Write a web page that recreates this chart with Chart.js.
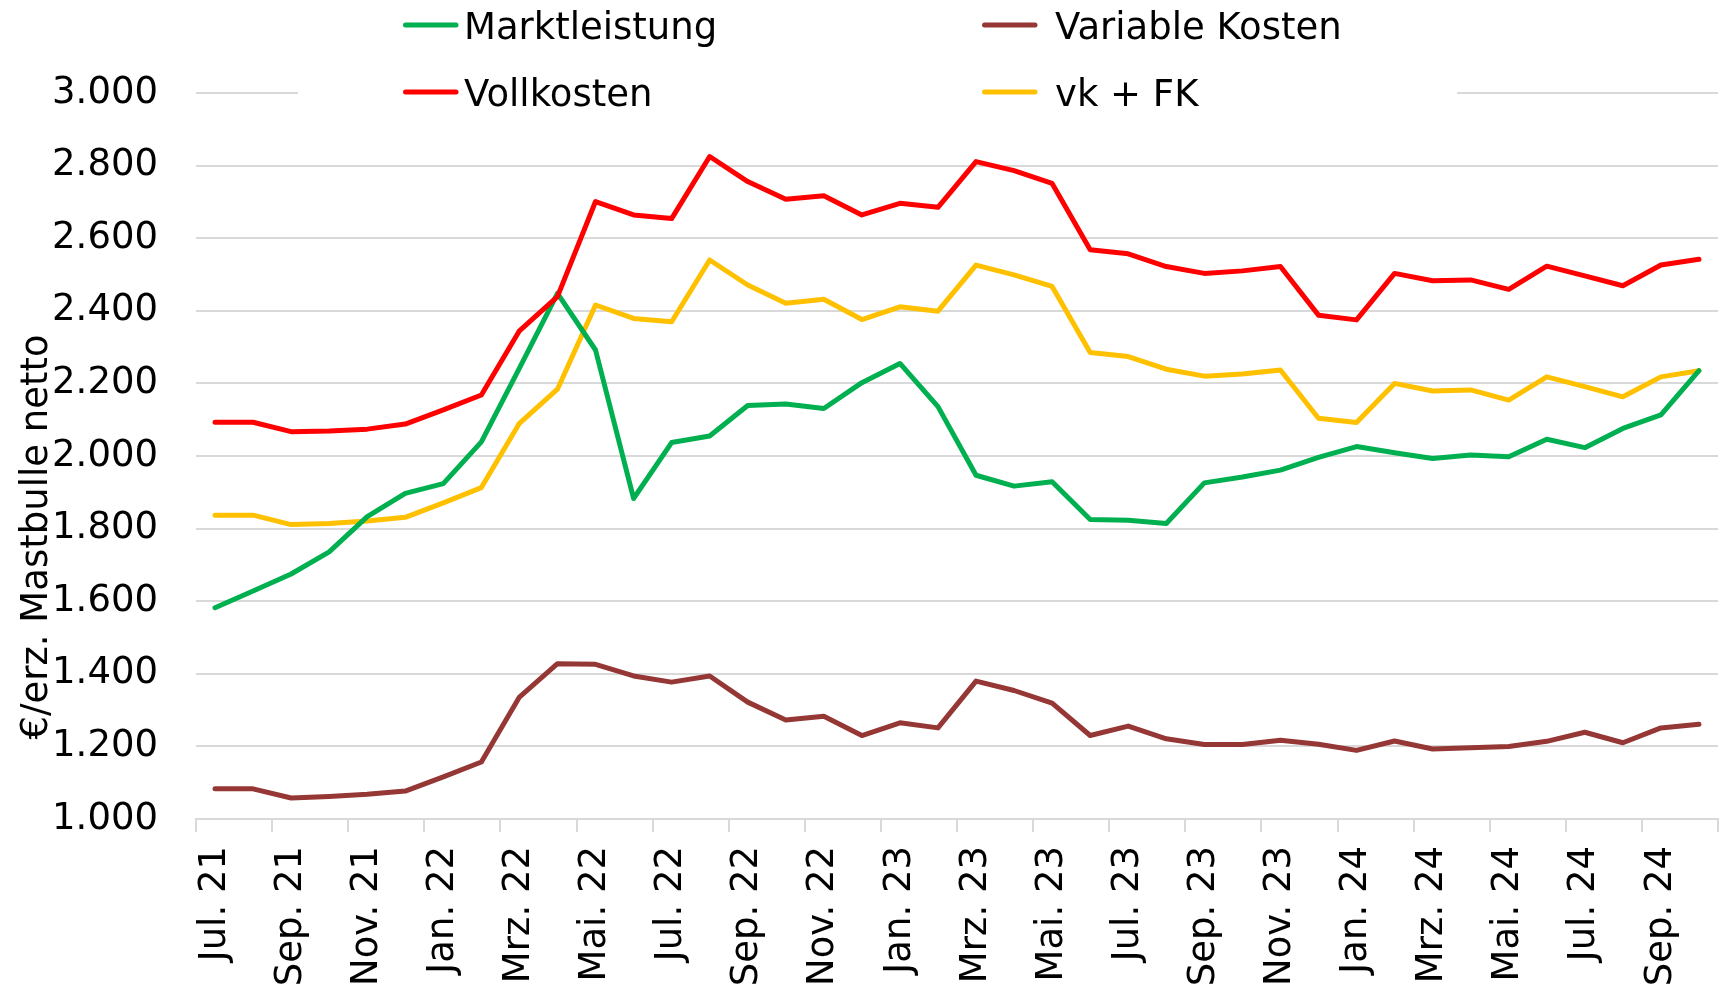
<!DOCTYPE html>
<html>
<head>
<meta charset="utf-8">
<script src="https://cdn.jsdelivr.net/npm/chart.js@4.4.1/dist/chart.umd.min.js"></script>
<style>
  html, body { margin: 0; padding: 0; background: #fff; }
  canvas { display: block; }
</style>
</head>
<body>
<canvas id="chart" width="1721" height="991"></canvas>
<script>
const monate = [
  "Jul. 21", "Aug. 21", "Sep. 21", "Okt. 21", "Nov. 21", "Dez. 21",
  "Jan. 22", "Feb. 22", "Mrz. 22", "Apr. 22", "Mai. 22", "Jun. 22",
  "Jul. 22", "Aug. 22", "Sep. 22", "Okt. 22", "Nov. 22", "Dez. 22",
  "Jan. 23", "Feb. 23", "Mrz. 23", "Apr. 23", "Mai. 23", "Jun. 23",
  "Jul. 23", "Aug. 23", "Sep. 23", "Okt. 23", "Nov. 23", "Dez. 23",
  "Jan. 24", "Feb. 24", "Mrz. 24", "Apr. 24", "Mai. 24", "Jun. 24",
  "Jul. 24", "Aug. 24", "Sep. 24", "Okt. 24"
];

const marktleistung = [1582, 1628, 1675, 1736, 1833, 1897, 1924, 2039, 2242, 2448, 2292, 1883,
  2037, 2055, 2139, 2143, 2131, 2202, 2255, 2136, 1947, 1917, 1929, 1825,
  1823, 1814, 1926, 1942, 1961, 1996, 2026, 2009, 1993, 2003, 1998, 2046,
  2023, 2076, 2113, 2235];

const vollkosten = [2093, 2093, 2067, 2069, 2074, 2088, 2127, 2168, 2345, 2439, 2701, 2664,
  2654, 2825, 2756, 2707, 2717, 2664, 2696, 2685, 2811, 2786, 2751, 2568,
  2557, 2522, 2503, 2510, 2522, 2388, 2375, 2503, 2483, 2485, 2459, 2523,
  2496, 2469, 2526, 2542];

const variableKosten = [1083, 1083, 1058, 1062, 1068, 1077, 1116, 1157, 1336, 1428, 1426, 1394,
  1377, 1394, 1322, 1273, 1283, 1230, 1265, 1251, 1380, 1354, 1319, 1230,
  1256, 1221, 1205, 1205, 1217, 1206, 1189, 1215, 1193, 1196, 1200, 1214,
  1239, 1210, 1251, 1261];

const vkFk = [1837, 1837, 1811, 1814, 1821, 1831, 1871, 1913, 2090, 2184, 2416, 2379,
  2370, 2540, 2471, 2421, 2432, 2376, 2411, 2399, 2526, 2499, 2467, 2285,
  2274, 2239, 2220, 2226, 2237, 2104, 2092, 2200, 2179, 2182, 2154, 2218,
  2191, 2163, 2218, 2235];

const yTicks = [1000, 1200, 1400, 1600, 1800, 2000, 2200, 2400, 2600, 2800, 3000];
const yTitel = "€/erz. Mastbulle netto";

const FONT = "DejaVu Sans";
const GRID = "#d9d9d9";

function tausender(v) {
  return String(v).replace(/\B(?=(\d{3})+(?!\d))/g, ".");
}

function linie(label, data, color, order) {
  return {
    label: label,
    data: data,
    borderColor: color,
    backgroundColor: color,
    borderWidth: 5,
    pointRadius: 0,
    pointHoverRadius: 0,
    tension: 0,
    borderJoinStyle: "round",
    borderCapStyle: "round",
    fill: false,
    order: order
  };
}

// legend in two columns, drawn over the top grid line like in Excel
const legendPlugin = {
  id: "zweiSpaltenLegende",
  afterDraw(chart) {
    const ctx = chart.ctx;
    const ds = chart.data.datasets;
    const spalten = [403, 982];
    const textX = [464, 1055];
    const zeilen = [25, 92];
    ctx.save();
    ctx.fillStyle = "#fff";
    ctx.fillRect(298, 0, 1159, 112);
    ctx.font = "37px '" + FONT + "'";
    ctx.textBaseline = "alphabetic";
    ctx.textAlign = "left";
    ds.forEach((d, i) => {
      const col = i % 2;
      const row = Math.floor(i / 2);
      const y = zeilen[row];
      ctx.strokeStyle = d.borderColor;
      ctx.lineWidth = 5;
      ctx.lineCap = "round";
      ctx.beginPath();
      ctx.moveTo(spalten[col] + 2.5, y);
      ctx.lineTo(spalten[col] + 53, y);
      ctx.stroke();
      ctx.fillStyle = "#000";
      ctx.fillText(d.label, textX[col], y + 14);
    });
    ctx.restore();
  }
};

const yTitelPlugin = {
  id: "yTitel",
  afterDraw(chart) {
    const ctx = chart.ctx;
    ctx.save();
    ctx.translate(47, 537);
    ctx.rotate(-Math.PI / 2);
    ctx.font = "37px '" + FONT + "'";
    ctx.fillStyle = "#000";
    ctx.textAlign = "center";
    ctx.textBaseline = "alphabetic";
    ctx.fillText(yTitel, 0, 0);
    ctx.restore();
  }
};

const config = {
  type: "line",
  data: {
    labels: monate,
    datasets: [
      linie("Marktleistung", marktleistung, "#00b050", 1),
      linie("Variable Kosten", variableKosten, "#953735", 3),
      linie("Vollkosten", vollkosten, "#ff0000", 0),
      linie("vk + FK", vkFk, "#ffc000", 2)
    ]
  },
  options: {
    responsive: false,
    animation: false,
    devicePixelRatio: 1,
    layout: { padding: { top: 93, right: 3, left: 0, bottom: 0 } },
    plugins: {
      legend: { display: false },
      tooltip: { enabled: false }
    },
    scales: {
      x: {
        type: "category",
        offset: true,
        grid: {
          offset: true,
          drawOnChartArea: false,
          drawTicks: true,
          tickLength: 13,
          lineWidth: 2,
          color: (c) => (c.index === undefined || c.index % 2 === 0) ? GRID : "rgba(0,0,0,0)"
        },
        border: { display: true, color: GRID, width: 2 },
        ticks: {
          autoSkip: false,
          minRotation: 90,
          maxRotation: 90,
          padding: 14,
          color: "#000",
          font: { family: FONT, size: 37 },
          callback: function (val, index) {
            return index % 2 === 0 ? this.getLabelForValue(val) : "";
          }
        },
        afterFit(scale) {
          scale.height = 172;
          scale.paddingLeft = 0;
          scale.paddingRight = 0;
        }
      },
      y: {
        min: yTicks[0],
        max: yTicks[yTicks.length - 1],
        afterBuildTicks(scale) {
          scale.ticks = yTicks.map(v => ({ value: v }));
        },
        grid: {
          color: GRID,
          lineWidth: 2,
          drawTicks: false
        },
        border: { display: false },
        ticks: {
          padding: 38,
          color: "#000",
          font: { family: FONT, size: 37 },
          callback: (v) => tausender(v)
        },
        afterFit(scale) {
          scale.width = 196;
        }
      }
    }
  },
  plugins: [legendPlugin, yTitelPlugin]
};

const chart = new Chart(document.getElementById("chart"), config);
</script>
</body>
</html>
